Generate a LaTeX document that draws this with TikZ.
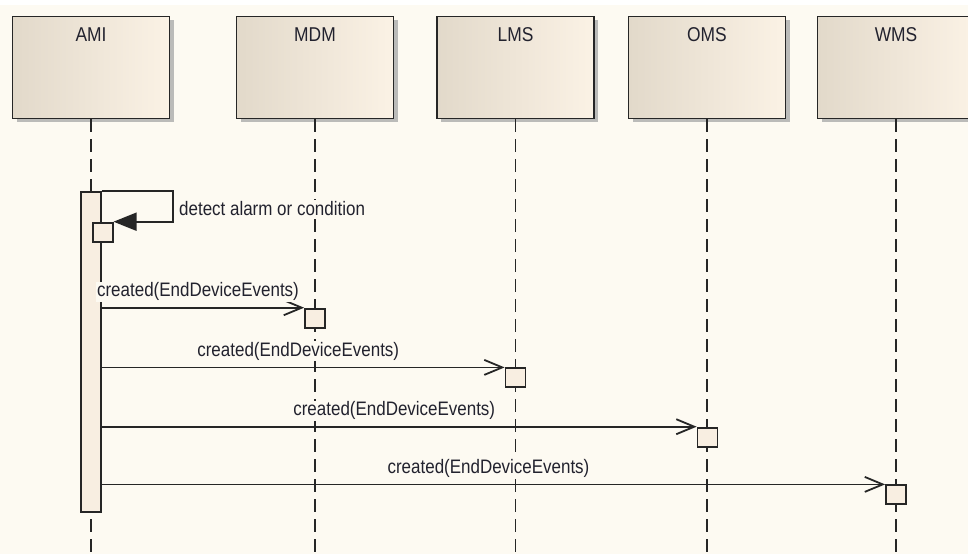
\documentclass[tikz,border=0pt]{standalone}
\usepackage{fontspec}
\setmainfont{Liberation Sans}[FakeStretch=0.87]
\usetikzlibrary{arrows.meta,shadows,calc}
\definecolor{bgc}{HTML}{FDFAF2}
\definecolor{headl}{HTML}{E2D9CA}
\definecolor{headr}{HTML}{FBF2E5}
\definecolor{actc}{HTML}{F8EEE1}
\definecolor{linec}{HTML}{262626}
\definecolor{textc}{HTML}{22222E}
\definecolor{shadowc}{HTML}{B0B0B0}
\tikzset{
  headbox/.style={draw=linec, line width=1.8pt, left color=headl, right color=headr,
    minimum width=157pt, minimum height=102pt, inner sep=0pt, anchor=north,
    drop shadow={shadow xshift=4pt, shadow yshift=-4pt, fill=shadowc, opacity=0.85}},
  headtext/.style={font=\fontsize{20}{22}\selectfont, text=textc, anchor=base, inner sep=0pt},
  lifeline/.style={draw=linec, line width=1.8pt, dash pattern=on 13pt off 7pt},
  actbar/.style={draw=linec, line width=1.8pt, fill=actc, inner sep=0pt, minimum width=20pt},
  actbox/.style={draw=linec, line width=1.8pt, fill=actc, inner sep=0pt,
    minimum width=20pt, minimum height=19pt, anchor=north},
  msg/.style={draw=linec, line width=1.8pt, -{Straight Barb[length=18pt, width=15pt, line width=1.8pt]}},
  selfmsg/.style={draw=linec, line width=1.8pt, -{Triangle[length=23pt, width=18pt]}},
  msglabel/.style={font=\fontsize{19.5}{21}\selectfont, text=textc, fill=bgc, anchor=base, inner sep=1pt},
}
\begin{document}
\begin{tikzpicture}[x=1pt, y=-1pt]
\useasboundingbox (0,0) rectangle (968,554);
\clip (0,0) rectangle (968,554);
\fill[white] (0,0) rectangle (968,5);
\fill[bgc] (0,5) rectangle (968,554);
\coordinate (bottom) at (0,554);

% lifeline heads
\node[headbox] (ami) at (91,15.5) {};
\node[headbox] (mdm) at (315,15.5) {};
\node[headbox] (lms) at (515.5,15.5) {};
\node[headbox] (oms) at (707,15.5) {};
\node[headbox] (wms) at (896,15.5) {};
\node[headtext] (amit) at ($(ami.north)+(0,25.5)$) {AMI};
\node[headtext] (mdmt) at ($(mdm.north)+(0,25.5)$) {MDM};
\node[headtext] (lmst) at ($(lms.north)+(0,25.5)$) {LMS};
\node[headtext] (omst) at ($(oms.north)+(0,25.5)$) {OMS};
\node[headtext] (wmst) at ($(wms.north)+(0,25.5)$) {WMS};

% lifelines
\foreach \h in {ami,mdm,lms,oms,wms}
  \draw[lifeline] (\h.south) -- (\h.south |- bottom);

% activation bar of AMI
\node[actbar, minimum height=320.3pt, anchor=north] (bar) at (91,190.7) {};
\node[actbox, anchor=north west] (sa) at (91.7,221.7) {};
\draw[selfmsg] (bar.north east) -- ++(70.7,0) |- (sa.north east);
\node[msglabel, anchor=base west] (selft) at (178,215.5) {detect alarm or condition};

% target activation boxes
\node[actbox] (m1) at (315,307.7) {};
\node[actbox] (m2) at (515.5,367.4) {};
\node[actbox] (m3) at (707.5,426.7) {};
\node[actbox] (m4) at (896,484.4) {};

\foreach \m in {m1,m2,m3,m4}{
  \draw[msg] (bar.east |- \m.north west) -- (\m.north west);
  \node[msglabel] at ($(bar.east |- \m.north west)!0.5!(\m.north west)+(-5,-11)$) {created(EndDeviceEvents)};
}
\end{tikzpicture}
\end{document}
